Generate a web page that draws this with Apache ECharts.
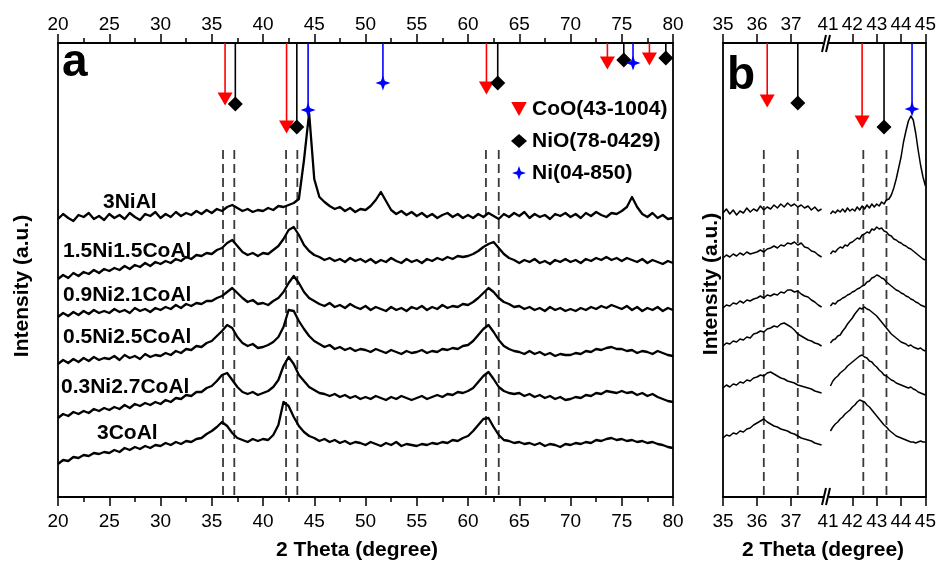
<!DOCTYPE html>
<html><head><meta charset="utf-8">
<script src="https://cdn.jsdelivr.net/npm/echarts@6/dist/echarts.min.js"></script>
<style>html,body{margin:0;padding:0;background:#fff}#c{width:939px;height:562px}</style>
</head><body><div id="c"></div>
<script>
// ---------- DATA ----------
const sampleNames = ['3NiAl','1.5Ni1.5CoAl','0.9Ni2.1CoAl','0.5Ni2.5CoAl','0.3Ni2.7CoAl','3CoAl'];
// Panel a: 2theta from 20 to 80, step 0.5 (intensity a.u., stacked)
const A_X0 = 20, A_STEP = 0.5;
const a3NiAl = [278,283,279,276,282,280,284,278,281,277, 283,279,282,278,284,280,277,283,281,285, 279,283,280,285,281,284,282,286,283,287,
  284,288,286,290,292,289,286,288,285,287, 286,289,287,291,290,292,294,298,337,384, 318,300,295,291,288,290,286,289,285,288,
  287,291,297,305,296,287,283,286,282,285, 281,284,280,283,279,282,284,280,283,279, 282,279,283,280,284,281,278,283,280,284,
  281,285,279,283,280,282,278,283,281,284, 280,283,279,284,281,285,282,280,284,283, 286,290,300,290,283,280,284,279,282,278, 279];
const a15Ni = [218,222,219,224,221,225,223,227,224,228, 226,229,227,231,228,232,230,234,231,235, 233,236,234,238,236,240,238,242,241,244,
  243,247,249,254,257,251,245,242,244,241, 244,243,247,251,258,267,270,262,252,246, 242,240,237,239,236,238,235,239,236,238,
  235,238,234,237,235,239,236,234,238,235, 237,234,238,236,239,237,240,238,241,240, 241,243,246,250,253,255,249,243,239,237,
  234,237,235,238,234,236,233,237,235,238, 235,237,234,238,236,239,237,240,237,239, 236,239,237,235,238,234,237,235,233,236, 234];
const a09Ni = [180,184,181,185,182,186,183,187,184,186, 184,188,185,187,184,189,186,188,185,189, 187,190,188,192,189,193,191,194,193,196,
  196,199,201,205,209,204,199,195,197,193, 194,192,196,199,205,214,221,214,205,199, 196,193,191,194,190,192,189,193,190,188,
  191,187,190,188,186,190,187,189,186,190, 188,191,187,190,188,192,189,191,190,193, 192,195,199,204,209,205,199,195,193,190,
  191,188,190,187,189,186,190,187,189,186, 188,186,189,187,190,188,191,189,192,190, 188,191,187,190,186,189,187,190,186,189, 187];
const a05Ni = [133,137,134,138,135,139,136,140,137,139, 138,141,137,142,139,141,138,143,140,142, 141,144,142,146,144,148,147,151,150,154,
  156,161,166,172,169,160,154,151,153,149, 150,152,155,160,170,187,186,176,168,161, 156,153,150,152,148,150,147,149,146,148,
  147,145,148,146,144,147,145,143,146,144, 145,147,144,146,145,148,147,149,148,151, 152,156,162,168,172,165,157,151,148,146,
  145,143,146,143,145,142,144,141,143,142, 142,144,143,146,145,148,147,149,150,148, 148,146,147,144,146,145,143,146,144,142, 141];
const a03Ni = [79,83,81,85,83,86,84,88,86,89, 87,90,88,92,89,93,91,94,92,95, 93,97,95,99,98,102,101,105,105,109,
  111,116,122,124,117,110,105,103,105,102, 104,106,110,117,131,140,133,122,116,110, 107,104,103,101,103,100,102,99,101,98,
  100,98,101,99,97,100,98,101,99,97, 99,101,98,100,102,100,103,102,105,104, 106,109,115,121,125,118,110,106,104,103,
  104,101,103,100,102,99,101,98,100,97, 98,100,99,102,101,104,103,106,105,104, 106,104,105,102,104,101,103,100,98,96, 95];
const a3CoAl = [33,37,36,40,39,42,41,44,43,45, 44,47,45,49,47,50,48,51,49,52, 51,54,52,55,53,56,55,58,59,63,
  66,70,75,71,64,59,57,55,58,56, 58,57,62,72,95,91,80,71,65,61, 59,56,58,55,57,54,56,53,55,54,
  52,55,53,51,54,52,55,51,53,52, 51,53,52,54,53,55,54,57,56,59, 61,66,72,78,79,70,62,57,56,54,
  55,53,54,52,54,51,53,52,50,53, 52,54,53,55,54,57,56,58,59,57, 58,56,57,55,56,54,55,53,52,50, 49];
// Panel b: left segment 35.0-37.9, right segment 41.1-45.0, step 0.1
const B_LX0 = 35.0, B_RX0 = 41.1, B_STEP = 0.1;
const b3NiAlL = [284,288,283,287,282,286,284,289,285,288, 286,291,287,290,288,292,289,293,290,294, 291,293,290,292,289,291,287,290,286,288];
const b3NiAlR = [283,286,284,287,285,288,285,289,286,288, 286,290,287,291,288,292,289,293,290,293, 291,295,293,297,298,302,309,318,329,340, 355,366,376,381,377,364,347,332,320,311];
const b15NiL = [239,242,240,243,241,244,242,245,243,244, 245,247,245,248,249,251,249,252,251,254, 253,255,252,254,250,249,246,245,242,240];
const b15NiR = [243,246,245,248,250,249,252,251,254,255, 257,259,258,262,263,265,264,268,267,270, 268,269,266,265,262,261,258,257,255,254, 252,251,249,248,246,244,242,240,238,237];
const b09NiL = [189,192,191,194,193,196,194,197,196,198, 199,201,199,202,201,203,202,205,204,207, 207,205,206,203,201,200,197,195,192,190];
const b09NiR = [191,194,193,196,197,199,200,202,203,205, 206,208,209,211,212,215,216,219,220,222, 221,219,218,215,213,211,209,207,206,204, 203,201,200,198,197,195,194,192,191,190];
const b05NiL = [151,154,153,156,155,158,157,160,159,163, 164,166,165,168,169,171,170,173,174,172, 170,167,163,161,159,157,156,154,153,151];
const b05NiR = [154,157,158,161,162,166,169,173,176,179, 183,186,189,188,190,188,187,185,183,181, 178,175,172,169,166,163,161,159,157,155, 154,153,151,152,150,149,148,149,147,146];
const b03NiL = [109,112,110,113,112,115,114,117,116,119, 120,122,121,124,125,123,121,119,118,116, 115,114,112,111,110,109,108,106,105,104];
const b03NiR = [111,116,119,121,124,126,128,131,133,135, 137,139,141,142,140,139,136,135,132,130, 127,125,122,121,119,117,116,114,113,112, 111,110,109,110,108,107,105,104,103,102];
const b3CoAlL = [59,62,61,64,63,66,65,68,69,72, 74,76,78,75,73,71,70,68,67,66, 64,63,61,59,58,57,56,54,53,52];
const b3CoAlR = [66,70,73,75,78,80,83,85,87,90, 92,95,97,96,95,92,90,87,84,81, 78,75,72,70,67,65,63,61,60,59, 58,57,56,55,55,54,55,56,55,55];
// Reference cards: [2theta, marker height]
const refNames = ['CoO(43-1004)','NiO(78-0429)','Ni(04-850)'];
const cooA = [[36.3,398],[42.3,370],[61.8,409],[73.6,434],[77.7,438]];
const nioA = [[37.3,393],[43.3,370],[62.9,414],[75.2,437],[79.3,439]];
const niA  = [[44.4,387],[51.7,414],[76.1,434]];
const cooB = [[36.3,396],[42.4,375]];
const nioB = [[37.2,394],[43.3,370]];
const niB  = [[44.45,388]];
const dashA = [36.1,37.2,42.25,43.35,61.75,63.0];
const dashB = [36.2,37.2,42.45,43.4];
const ticksA = {min:20, max:80, interval:5};
const ticksBL = [35,36,37];
const ticksBR = [41,42,43,44,45];

// ---------- CHART ----------
const FONT = '"Liberation Sans", Arial, Helvetica, sans-serif';
const YMAX = 454, DASH_TOP = 347;
const chart = echarts.init(document.getElementById('c'), null, {renderer:'canvas'});
const pairs = (arr, x0, step) => arr.map((v,i)=>[+(x0+i*step).toFixed(2), v]);
const axLine = {color:'#000', width:1.8};
function xAx(grid, pos, min, max, interval, extra){
  return Object.assign({
    type:'value', gridIndex:grid, position:pos, min:min, max:max, interval:interval,
    axisLine:{show:true, onZero:false, lineStyle:axLine},
    axisTick:{show:true, inside:false, length:9, lineStyle:{color:'#000', width:1.5}},
    axisLabel:{show:true, margin: pos==='top'?9:15, fontSize:19, color:'#000', fontFamily:FONT},
    splitLine:{show:false}
  }, extra||{});
}
function yAx(grid, pos, showLine){
  return {type:'value', gridIndex:grid, position:pos, min:0, max:YMAX,
    axisLine:{show:showLine, onZero:false, lineStyle:axLine}, axisTick:{show:false}, axisLabel:{show:false}, splitLine:{show:false}};
}
const minor = {minorTick:{show:true, splitNumber:2, length:5, lineStyle:{color:'#000', width:1.5}}, minorSplitLine:{show:false}};
const xAxes = [
  xAx(0,'bottom',ticksA.min,ticksA.max,ticksA.interval,minor),
  xAx(0,'top',ticksA.min,ticksA.max,ticksA.interval,minor),
  xAx(1,'bottom',35,38,1),
  xAx(1,'top',35,38,1),
  xAx(2,'bottom',41,45,1),
  xAx(2,'top',41,45,1)
];
[2,3].forEach(i=>{ xAxes[i].axisTick.customValues = ticksBL; xAxes[i].axisLabel.customValues = ticksBL; });
[4,5].forEach(i=>{ xAxes[i].axisTick.customValues = ticksBR.slice(1); xAxes[i].axisLabel.customValues = ticksBR; });
const yAxes = [yAx(0,'left',true), yAx(0,'right',true), yAx(1,'left',true), yAx(2,'left',false), yAx(2,'right',true)];

const series = [];
function lineS(data, xi, yi, w){
  series.push({type:'line', data:data, xAxisIndex:xi, yAxisIndex:yi, showSymbol:false, symbol:'none',
    lineStyle:{color:'#000', width:w, join:'round'}, silent:true, animation:false, z:3});
}
const aAll = [a3NiAl,a15Ni,a09Ni,a05Ni,a03Ni,a3CoAl];
aAll.forEach(a=>lineS(pairs(a,A_X0,A_STEP),0,0,2.3));
const bL = [b3NiAlL,b15NiL,b09NiL,b05NiL,b03NiL,b3CoAlL];
const bR = [b3NiAlR,b15NiR,b09NiR,b05NiR,b03NiR,b3CoAlR];
bL.forEach(a=>lineS(pairs(a,B_LX0,B_STEP),2,2,1.5));
bR.forEach(a=>lineS(pairs(a,B_RX0,B_STEP),4,3,1.5));

function dashS(xs, xi, yi){
  series.push({type:'custom', xAxisIndex:xi, yAxisIndex:yi, silent:true, animation:false, z:2,
    data: xs.map(x=>[x,0]),
    renderItem:function(p, api){
      const x = api.value(0); const p0 = api.coord([x, DASH_TOP]); const p1 = api.coord([x, 0]);
      return {type:'line', shape:{x1:p0[0],y1:p0[1],x2:p1[0],y2:p1[1]}, style:{stroke:'#3a3a3a', lineWidth:1.8, lineDash:[9,5]}};
    }});
}
dashS(dashA,0,0);
dashS(dashB.filter(x=>x<40),2,2);
dashS(dashB.filter(x=>x>40),4,3);

const colors = ['#ff0000','#000000','#0000ff'];
const STAR = 'path://M0,-10 L2.6,-2.6 L10,0 L2.6,2.6 L0,10 L-2.6,2.6 L-10,0 L-2.6,-2.6 Z';
const symbols = ['triangle','diamond',STAR];
const legendIcons = ['path://M0,0 L10,0 L5,9 Z','diamond',STAR];
const sizes = [[15,13],[15,15],[15,15]];
const rots = [180,0,0];
function refS(idx, data, xi, yi){
  if(!data.length) return;
  series.push({type:'custom', xAxisIndex:xi, yAxisIndex:yi, silent:true, animation:false, z:4, data:data,
    renderItem:function(p, api){
      const x = api.value(0), y = api.value(1); const p0 = api.coord([x, YMAX]); const p1 = api.coord([x, y]);
      return {type:'line', shape:{x1:p0[0],y1:p0[1],x2:p1[0],y2:p1[1]}, style:{stroke:colors[idx], lineWidth:1.6}};
    }});
  series.push({type:'scatter', name:refNames[idx], xAxisIndex:xi, yAxisIndex:yi, data:data, symbol:symbols[idx],
    symbolSize:sizes[idx], symbolRotate:rots[idx], itemStyle:{color:colors[idx], opacity:1}, silent:true, animation:false, z:5});
}
[cooA,nioA,niA].forEach((d,i)=>refS(i,d,0,0));
[cooB,nioB,niB].forEach((d,i)=>{ refS(i,d.filter(p=>p[0]<40),2,2); refS(i,d.filter(p=>p[0]>40),4,3); });

const labelPos = [[103,202],[63,251],[63,295],[63,337],[61,387],[97,433]];
const BOLD = 'bold 21px ' + FONT;
const graphics = [];
sampleNames.forEach((n,i)=>graphics.push({type:'text', x:labelPos[i][0], y:labelPos[i][1], z:10,
  style:{text:n, font:BOLD, fill:'#000', align:'left', verticalAlign:'middle', textAlign:'left', textVerticalAlign:'middle'}}));
graphics.push({type:'text', x:62, y:63, z:10, style:{text:'a', font:'bold 46px '+FONT, fill:'#000', align:'left', verticalAlign:'middle', textAlign:'left', textVerticalAlign:'middle'}});
graphics.push({type:'text', x:727, y:76, z:10, style:{text:'b', font:'bold 46px '+FONT, fill:'#000', align:'left', verticalAlign:'middle', textAlign:'left', textVerticalAlign:'middle'}});
[[22,286],[711,284]].forEach(p=>graphics.push({type:'text', x:p[0], y:p[1], rotation:Math.PI/2, z:10,
  style:{text:'Intensity (a.u.)', font:BOLD, fill:'#000', align:'center', verticalAlign:'middle', textAlign:'center', textVerticalAlign:'middle'}}));
[[357,550],[823,550]].forEach(p=>graphics.push({type:'text', x:p[0], y:p[1], z:10,
  style:{text:'2 Theta (degree)', font:BOLD, fill:'#000', align:'center', verticalAlign:'middle', textAlign:'center', textVerticalAlign:'middle'}}));
// axis break marks
[[35,52],[488,505]].forEach(r=>{
  graphics.push({type:'rect', shape:{x:823, y:r[0]+3, width:6, height:r[1]-r[0]-6}, style:{fill:'#fff'}, z:19});
  graphics.push({type:'line', shape:{x1:826,y1:r[0],x2:822,y2:r[1]}, style:{stroke:'#000', lineWidth:2}, z:20});
  graphics.push({type:'line', shape:{x1:830,y1:r[0],x2:826,y2:r[1]}, style:{stroke:'#000', lineWidth:2}, z:20});
});

chart.setOption({
  animation:false,
  backgroundColor:'#fff',
  grid:[{left:58, top:43, width:615, height:454},{left:723, top:43, width:102, height:454},{left:828, top:43, width:100, height:454}],
  xAxis:xAxes, yAxis:yAxes,
  legend:{data:refNames.map((n,i)=>({name:n, icon:legendIcons[i]})), orient:'vertical', left:506, top:93, itemGap:10, itemWidth:16, itemHeight:14,
    selectedMode:false, textStyle:{fontSize:21, fontWeight:'bold', color:'#000', fontFamily:FONT, lineHeight:22}},
  series:series,
  graphic:graphics
});
</script></body></html>
